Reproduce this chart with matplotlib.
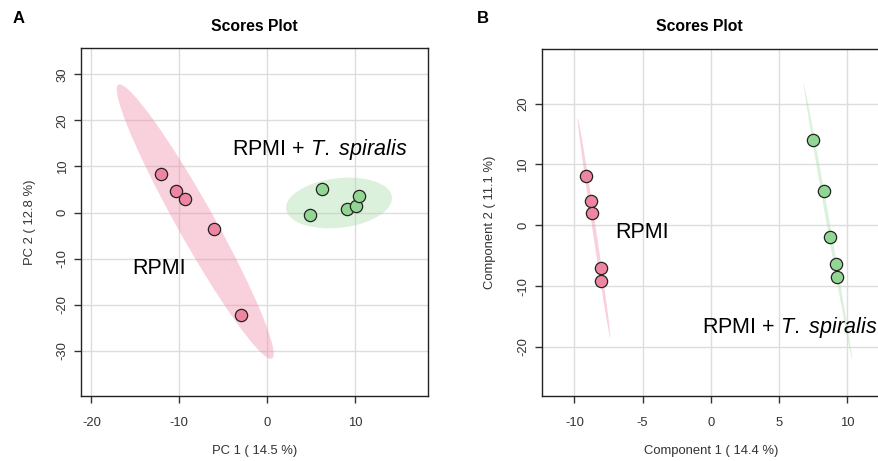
import numpy as np
import matplotlib.pyplot as plt
from matplotlib.patches import Ellipse

plt.rcParams['font.family'] = ['Liberation Sans', 'DejaVu Sans']
plt.rcParams['mathtext.fontset'] = 'custom'
plt.rcParams['mathtext.rm'] = 'Liberation Sans'
plt.rcParams['mathtext.it'] = 'Liberation Sans:italic'
plt.rcParams['axes.unicode_minus'] = False

# panel A: PCA scores
pca_rpmi_x = [-12.05, -10.42, -9.4, -6.1, -2.95]
pca_rpmi_y = [8.46, 4.64, 2.9, -3.6, -22.3]
pca_ts_x = [6.25, 4.92, 9.09, 10.15, 10.45]
pca_ts_y = [5.0, -0.57, 0.8, 1.39, 3.69]

# panel B: PLS-DA scores
pls_rpmi_x = [-9.16, -8.8, -8.72, -8.06, -8.04]
pls_rpmi_y = [8.05, 4.05, 2.02, -7.02, -9.15]
pls_ts_x = [7.51, 8.28, 8.75, 9.17, 9.29]
pls_ts_y = [13.97, 5.59, -1.92, -6.41, -8.5]

red_pt, red_fill = '#EE86A2', '#F08CA8'
green_pt, green_fill = '#92D694', '#A8DCA8'


def conf_ellipse(ax, x, y, color):
    # 95% confidence ellipse from the group covariance
    x = np.asarray(x); y = np.asarray(y)
    cov = np.cov(x, y)
    vals, vecs = np.linalg.eigh(cov)
    order = vals.argsort()[::-1]
    vals, vecs = vals[order], vecs[:, order]
    angle = np.degrees(np.arctan2(vecs[1, 0], vecs[0, 0]))
    k = np.sqrt(5.991)
    e = Ellipse((x.mean(), y.mean()), 2 * k * np.sqrt(vals[0]), 2 * k * np.sqrt(vals[1]),
                angle=angle, facecolor=color, edgecolor='none', alpha=0.4, zorder=1)
    ax.add_patch(e)


def style(ax):
    ax.grid(True, color='#DDDDDD', lw=1)
    ax.set_axisbelow(True)
    ax.tick_params(direction='out', length=5, width=1, labelsize=9.4,
                   labelcolor='#333333', color='#333333')
    ax.tick_params(axis='x', pad=10)
    ax.tick_params(axis='y', pad=4)
    for lab in ax.get_yticklabels():
        lab.set_rotation(90)
        lab.set_va('center')
    for s in ax.spines.values():
        s.set_linewidth(1)
        s.set_color('#222222')


label_ts = 'RPMI + $\\mathit{T.\\ spiralis}$'

fig = plt.figure(figsize=(8.79, 4.61), dpi=100)

# ---- A
ax1 = fig.add_axes([0.0922, 0.1417, 0.3944, 0.7535])
conf_ellipse(ax1, pca_rpmi_x, pca_rpmi_y, red_fill)
conf_ellipse(ax1, pca_ts_x, pca_ts_y, green_fill)
ax1.scatter(pca_rpmi_x, pca_rpmi_y, s=78, c=red_pt, edgecolors='#222222', linewidths=0.9, zorder=3)
ax1.scatter(pca_ts_x, pca_ts_y, s=78, c=green_pt, edgecolors='#222222', linewidths=0.9, zorder=3)
ax1.set_xlim(-21.17, 18.26)
ax1.set_ylim(-39.76, 35.64)
ax1.set_xticks([-20, -10, 0, 10])
ax1.set_yticks([-30, -20, -10, 0, 10, 20, 30])
ax1.text(5.99, 13.6, label_ts, fontsize=15.5, ha='center', va='center')
ax1.text(-12.27, -12.15, 'RPMI', fontsize=15.5, ha='center', va='center')
ax1.set_xlabel('PC 1 ( 14.5 %)', fontsize=9.4, color='#333333', labelpad=12)
ax1.set_ylabel('PC 2 ( 12.8 %)', fontsize=9.4, color='#333333', labelpad=15)
ax1.set_title('Scores Plot', fontsize=11.3, fontweight='bold', pad=12.5)
style(ax1)

# ---- B
ax2 = fig.add_axes([0.6163, 0.141, 0.386, 0.7534])
conf_ellipse(ax2, pls_rpmi_x, pls_rpmi_y, red_fill)
conf_ellipse(ax2, pls_ts_x, pls_ts_y, green_fill)
ax2.scatter(pls_rpmi_x, pls_rpmi_y, s=78, c=red_pt, edgecolors='#222222', linewidths=0.9, zorder=3)
ax2.scatter(pls_ts_x, pls_ts_y, s=78, c=green_pt, edgecolors='#222222', linewidths=0.9, zorder=3)
ax2.set_xlim(-12.39, 12.49)
ax2.set_ylim(-28.05, 29.02)
ax2.set_xticks([-10, -5, 0, 5, 10])
ax2.set_yticks([-20, -10, 0, 10, 20])
ax2.text(-5.0, -1.2, 'RPMI', fontsize=15.5, ha='center', va='center')
ax2.text(5.82, -16.8, label_ts, fontsize=15.5, ha='center', va='center')
ax2.set_xlabel('Component 1 ( 14.4 %)', fontsize=9.4, color='#333333', labelpad=12)
ax2.set_ylabel('Component 2 ( 11.1 %)', fontsize=9.4, color='#333333', labelpad=15)
ax2.set_title('Scores Plot', fontsize=11.3, fontweight='bold', pad=12.5, x=0.465)
style(ax2)

fig.text(18.7 / 879, 1 - 18.3 / 461, 'A', fontsize=12, fontweight='bold', ha='center', va='center')
fig.text(483.3 / 879, 1 - 18.3 / 461, 'B', fontsize=12, fontweight='bold', ha='center', va='center')

fig.savefig('out.png', dpi=100)
